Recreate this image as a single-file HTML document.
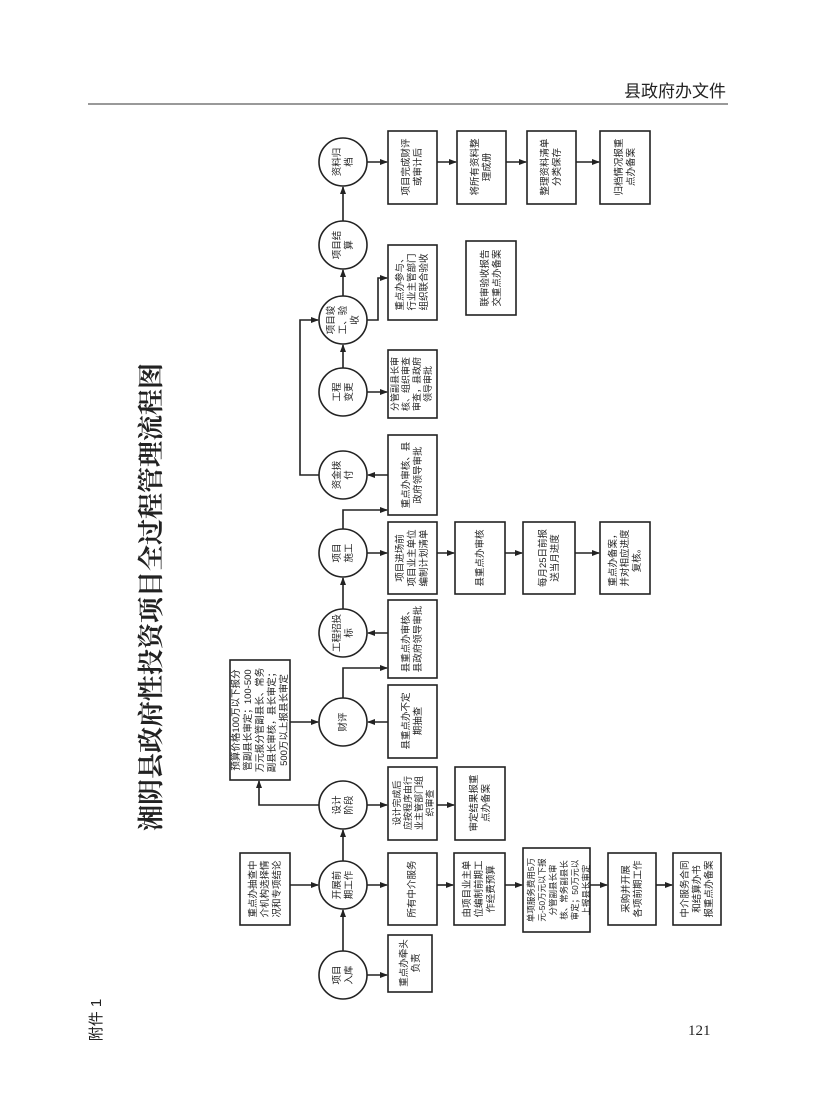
<!DOCTYPE html>
<html><head><meta charset="utf-8"><style>
html,body{margin:0;padding:0;background:#fff;width:816px;height:1099px;overflow:hidden}
svg{display:block}
text{font-family:"Liberation Sans","Noto Sans CJK SC",sans-serif;fill:#222}
</style></head><body>
<svg width="816" height="1099" viewBox="0 0 816 1099" xmlns="http://www.w3.org/2000/svg">
<defs><marker id="a" markerWidth="8" markerHeight="8" refX="7" refY="4" orient="auto" markerUnits="userSpaceOnUse"><path d="M0,1 L8,4 L0,7 z" fill="#222"/></marker></defs>
<text x="726" y="97" font-size="17" text-anchor="end">县政府办文件</text>
<line x1="88" y1="104" x2="728" y2="104" stroke="#333" stroke-width="1"/>
<text transform="translate(160,597) rotate(-90)" font-size="26" font-weight="bold" text-anchor="middle" style="font-family:'Liberation Serif','Noto Serif CJK SC',serif">湘阴县政府性投资项目全过程管理流程图</text>
<text transform="translate(101,1020) rotate(-90)" font-size="15" text-anchor="middle">附件 1</text>
<text x="688" y="1035" font-size="15" style="font-family:'Liberation Serif',serif">121</text>
<g fill="none" stroke="#222" stroke-width="1.6">
<circle cx="343" cy="975" r="24"/><circle cx="343" cy="885" r="24"/><circle cx="343" cy="805" r="24"/>
<circle cx="343" cy="722" r="24"/><circle cx="343" cy="633" r="24"/><circle cx="343" cy="553" r="24"/>
<circle cx="343" cy="475" r="24"/><circle cx="343" cy="392" r="24"/><circle cx="343" cy="320" r="24"/>
<circle cx="343" cy="245" r="24"/><circle cx="343" cy="162" r="24"/>
<rect x="388" y="935" width="44" height="57"/>
<rect x="240" y="853" width="50" height="72"/>
<rect x="388" y="853" width="49" height="72"/><rect x="454" y="853" width="51" height="72"/>
<rect x="523" y="848" width="67" height="84"/><rect x="608" y="853" width="48" height="72"/><rect x="673" y="853" width="48" height="72"/>
<rect x="388" y="767" width="49" height="73"/><rect x="455" y="767" width="50" height="73"/>
<rect x="230" y="660" width="60" height="120"/>
<rect x="388" y="685" width="49" height="73"/><rect x="388" y="600" width="49" height="78"/>
<rect x="388" y="522" width="49" height="72"/><rect x="455" y="522" width="50" height="72"/><rect x="523" y="522" width="52" height="72"/><rect x="600" y="522" width="50" height="72"/>
<rect x="388" y="435" width="49" height="80"/>
<rect x="388" y="350" width="49" height="68"/>
<rect x="388" y="245" width="49" height="75"/><rect x="466" y="241" width="50" height="74"/>
<rect x="388" y="131" width="49" height="73"/><rect x="457" y="131" width="49" height="73"/><rect x="527" y="131" width="49" height="73"/><rect x="600" y="131" width="50" height="73"/>
</g>
<g fill="none" stroke="#222" stroke-width="1.6" marker-end="url(#a)">
<line x1="343" y1="951" x2="343" y2="910"/><line x1="343" y1="861" x2="343" y2="830"/>
<line x1="343" y1="609" x2="343" y2="578"/><line x1="343" y1="368" x2="343" y2="345"/>
<line x1="343" y1="296" x2="343" y2="270"/><line x1="343" y1="221" x2="343" y2="187"/>
<line x1="367" y1="975" x2="387" y2="975"/>
<line x1="290" y1="885" x2="318" y2="885"/><line x1="367" y1="885" x2="387" y2="885"/>
<line x1="437" y1="885" x2="453" y2="885"/><line x1="505" y1="885" x2="522" y2="885"/><line x1="590" y1="885" x2="607" y2="885"/><line x1="656" y1="885" x2="672" y2="885"/>
<line x1="367" y1="805" x2="387" y2="805"/><line x1="437" y1="805" x2="454" y2="805"/>
<polyline points="319,805 259,805 259,781"/>
<line x1="290" y1="722" x2="318" y2="722"/><line x1="388" y1="722" x2="368" y2="722"/>
<polyline points="343,698 343,668 387,668"/><line x1="388" y1="633" x2="368" y2="633"/>
<line x1="367" y1="553" x2="387" y2="553"/><line x1="437" y1="553" x2="454" y2="553"/><line x1="505" y1="553" x2="522" y2="553"/><line x1="575" y1="553" x2="599" y2="553"/>
<polyline points="343,529 343,510 387,510"/><line x1="388" y1="475" x2="368" y2="475"/>
<polyline points="319,475 300,475 300,320 318,320"/>
<line x1="367" y1="392" x2="387" y2="392"/>
<polyline points="367,320 378,320 378,278 387,278"/>
<line x1="367" y1="162" x2="387" y2="162"/><line x1="437" y1="162" x2="456" y2="162"/><line x1="506" y1="162" x2="526" y2="162"/><line x1="576" y1="162" x2="599" y2="162"/>
</g>
<g font-size="9.5" text-anchor="middle">
<text transform="translate(343,975) rotate(-90)"><tspan x="0" y="-3">项目</tspan><tspan x="0" y="9">入库</tspan></text>
<text transform="translate(343,885) rotate(-90)"><tspan x="0" y="-3">开展前</tspan><tspan x="0" y="9">期工作</tspan></text>
<text transform="translate(343,805) rotate(-90)"><tspan x="0" y="-3">设计</tspan><tspan x="0" y="9">阶段</tspan></text>
<text transform="translate(343,722) rotate(-90)"><tspan x="0" y="3">财评</tspan></text>
<text transform="translate(343,633) rotate(-90)"><tspan x="0" y="-3">工程招投</tspan><tspan x="0" y="9">标</tspan></text>
<text transform="translate(343,553) rotate(-90)"><tspan x="0" y="-3">项目</tspan><tspan x="0" y="9">施工</tspan></text>
<text transform="translate(343,475) rotate(-90)"><tspan x="0" y="-3">资金拨</tspan><tspan x="0" y="9">付</tspan></text>
<text transform="translate(343,392) rotate(-90)"><tspan x="0" y="-3">工程</tspan><tspan x="0" y="9">变更</tspan></text>
<text transform="translate(343,320) rotate(-90)"><tspan x="0" y="-9">项目竣</tspan><tspan x="0" y="3">工、验</tspan><tspan x="0" y="15">收</tspan></text>
<text transform="translate(343,245) rotate(-90)"><tspan x="0" y="-3">项目结</tspan><tspan x="0" y="9">算</tspan></text>
<text transform="translate(343,162) rotate(-90)"><tspan x="0" y="-3">资料归</tspan><tspan x="0" y="9">档</tspan></text>

<text transform="translate(410,963) rotate(-90)"><tspan x="0" y="-3">重点办牵头</tspan><tspan x="0" y="9">负责</tspan></text>
<text transform="translate(265,889) rotate(-90)"><tspan x="0" y="-9">重点办抽查中</tspan><tspan x="0" y="3">介机构选择情</tspan><tspan x="0" y="15">况和专项结论</tspan></text>
<text transform="translate(412,889) rotate(-90)"><tspan x="0" y="3">所有中介服务</tspan></text>
<text transform="translate(479,889) rotate(-90)"><tspan x="0" y="-9">由项目业主单</tspan><tspan x="0" y="3">位编制前期工</tspan><tspan x="0" y="15">作经费预算</tspan></text>
<text transform="translate(556,890) rotate(-90)" font-size="8.5"><tspan x="0" y="-22">单项服务费用5万</tspan><tspan x="0" y="-11">元-50万元以下报</tspan><tspan x="0" y="0">分管副县长审</tspan><tspan x="0" y="11">核、常务副县长</tspan><tspan x="0" y="22">审定；50万元以</tspan><tspan x="0" y="33">上报县长审定</tspan></text>
<text transform="translate(632,889) rotate(-90)"><tspan x="0" y="-3">采购并开展</tspan><tspan x="0" y="9">各项前期工作</tspan></text>
<text transform="translate(697,889) rotate(-90)"><tspan x="0" y="-9">中介服务合同</tspan><tspan x="0" y="3">和结算办书</tspan><tspan x="0" y="15">报重点办备案</tspan></text>
<text transform="translate(412,803) rotate(-90)" font-size="9"><tspan x="0" y="-12">设计完成后</tspan><tspan x="0" y="-1">应按程序由行</tspan><tspan x="0" y="10">业主管部门组</tspan><tspan x="0" y="21">织审查</tspan></text>
<text transform="translate(480,803) rotate(-90)"><tspan x="0" y="-3">审定结果报重</tspan><tspan x="0" y="9">点办备案</tspan></text>
<text transform="translate(260,720) rotate(-90)" font-size="9.5"><tspan x="0" y="-21">预算价格100万以下报分</tspan><tspan x="0" y="-9">管副县长审定；100-500</tspan><tspan x="0" y="3">万元报分管副县长、常务</tspan><tspan x="0" y="15">副县长审核，县长审定；</tspan><tspan x="0" y="27">500万以上报县长审定</tspan></text>
<text transform="translate(412,721) rotate(-90)"><tspan x="0" y="-3">县重点办不定</tspan><tspan x="0" y="9">期抽查</tspan></text>
<text transform="translate(412,639) rotate(-90)"><tspan x="0" y="-3">县重点办审核、</tspan><tspan x="0" y="9">县政府领导审批</tspan></text>
<text transform="translate(412,558) rotate(-90)"><tspan x="0" y="-9">项目进场前</tspan><tspan x="0" y="3">项目业主单位</tspan><tspan x="0" y="15">编制计划清单</tspan></text>
<text transform="translate(480,558) rotate(-90)"><tspan x="0" y="3">县重点办审核</tspan></text>
<text transform="translate(549,558) rotate(-90)"><tspan x="0" y="-3">每月25日前报</tspan><tspan x="0" y="9">送当月进度</tspan></text>
<text transform="translate(625,558) rotate(-90)"><tspan x="0" y="-9">重点办备案，</tspan><tspan x="0" y="3">并对相应进度</tspan><tspan x="0" y="15">复核。</tspan></text>
<text transform="translate(412,475) rotate(-90)"><tspan x="0" y="-3">重点办审核、县</tspan><tspan x="0" y="9">政府领导审批</tspan></text>
<text transform="translate(412,384) rotate(-90)" font-size="9"><tspan x="0" y="-14">分管副县长审</tspan><tspan x="0" y="-3">核、组织审查</tspan><tspan x="0" y="8">审查，县政府</tspan><tspan x="0" y="19">领导审批</tspan></text>
<text transform="translate(412,282) rotate(-90)"><tspan x="0" y="-9">重点办参与、</tspan><tspan x="0" y="3">行业主管部门</tspan><tspan x="0" y="15">组织联合验收</tspan></text>
<text transform="translate(491,278) rotate(-90)"><tspan x="0" y="-3">联审验收报告</tspan><tspan x="0" y="9">交重点办备案</tspan></text>
<text transform="translate(412,167) rotate(-90)"><tspan x="0" y="-3">项目完成财评</tspan><tspan x="0" y="9">或审计后</tspan></text>
<text transform="translate(481,167) rotate(-90)"><tspan x="0" y="-3">将所有资料整</tspan><tspan x="0" y="9">理成册</tspan></text>
<text transform="translate(551,167) rotate(-90)"><tspan x="0" y="-3">整理资料清单</tspan><tspan x="0" y="9">分类保存</tspan></text>
<text transform="translate(625,167) rotate(-90)"><tspan x="0" y="-3">归档情况报重</tspan><tspan x="0" y="9">点办备案</tspan></text>
</g>
</svg>
</body></html>
